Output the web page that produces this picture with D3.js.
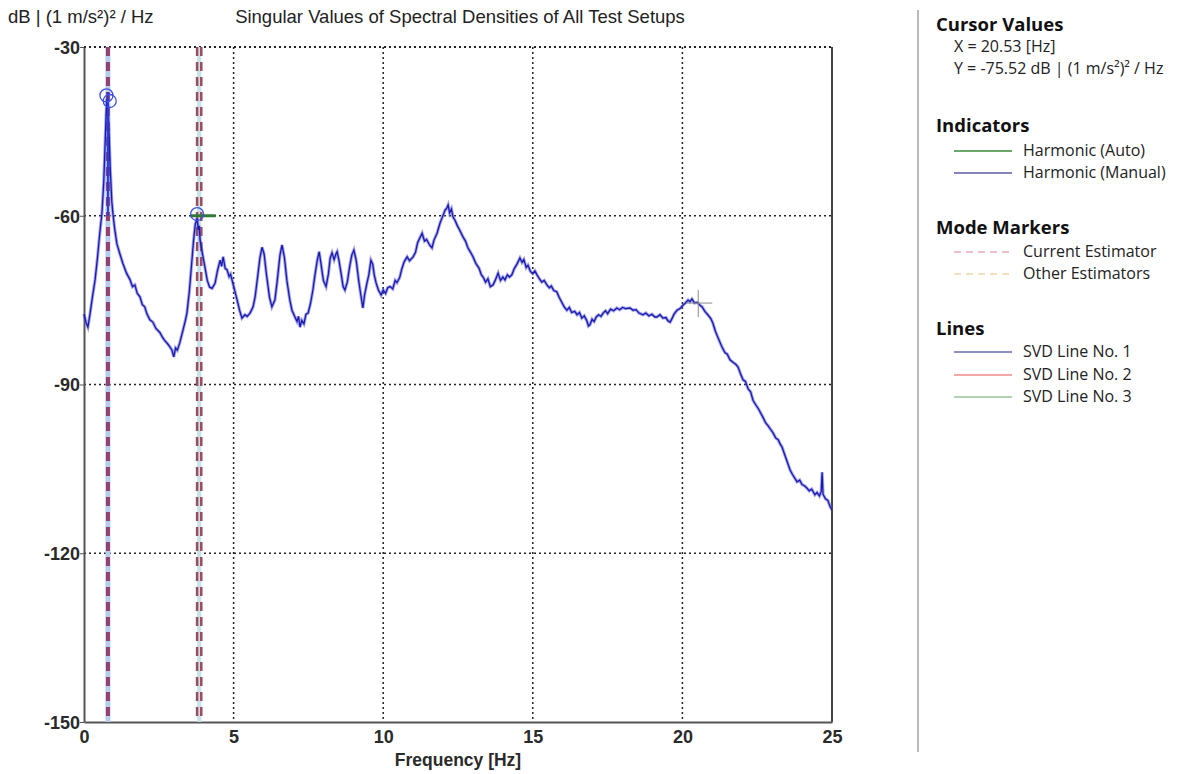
<!DOCTYPE html>
<html>
<head>
<meta charset="utf-8">
<script src="https://cdn.jsdelivr.net/npm/d3@7"></script>
<style>
  body { margin: 0; background: #fff; }
  svg { display: block; }
  .tick text { font-family: "Liberation Sans", Arial, sans-serif; }
</style>
</head>
<body>
<div id="chart"></div>
<script>
// Singular values of spectral densities

const freq = [0.0,0.07,0.13,0.2,0.28,0.37,0.45,0.52,0.6,0.66,0.7,0.74,0.77,0.8,0.84,0.88,0.93,0.97,1.03,1.1,1.2,1.3,1.42,1.54,1.62,1.7,1.78,1.87,1.95,2.03,2.1,2.2,2.3,2.4,2.54,2.62,2.7,2.8,2.87,2.94,3.0,3.06,3.12,3.2,3.3,3.38,3.44,3.52,3.6,3.66,3.72,3.78,3.82,3.85,3.88,3.95,4.04,4.12,4.2,4.28,4.38,4.46,4.55,4.6,4.65,4.72,4.78,4.85,4.9,5.0,5.1,5.2,5.28,5.38,5.45,5.55,5.65,5.72,5.8,5.88,5.95,6.02,6.1,6.2,6.28,6.38,6.46,6.55,6.62,6.7,6.78,6.88,6.95,7.05,7.12,7.17,7.22,7.28,7.35,7.42,7.49,7.57,7.65,7.72,7.8,7.86,7.92,8.0,8.09,8.17,8.23,8.29,8.36,8.42,8.46,8.52,8.6,8.66,8.72,8.8,8.88,8.95,9.02,9.1,9.18,9.25,9.32,9.38,9.46,9.52,9.59,9.65,9.7,9.76,9.84,9.93,10.0,10.08,10.15,10.23,10.32,10.4,10.46,10.55,10.62,10.7,10.8,10.88,10.95,11.0,11.08,11.15,11.22,11.3,11.38,11.45,11.55,11.63,11.7,11.8,11.9,11.98,12.07,12.13,12.17,12.22,12.28,12.33,12.4,12.48,12.55,12.67,12.75,12.83,12.92,13.0,13.1,13.2,13.28,13.34,13.42,13.5,13.58,13.67,13.75,13.84,13.92,14.0,14.07,14.15,14.22,14.3,14.38,14.47,14.57,14.64,14.7,14.78,14.84,14.92,15.0,15.07,15.14,15.22,15.3,15.38,15.47,15.55,15.62,15.7,15.8,15.88,15.95,16.05,16.14,16.22,16.3,16.4,16.48,16.56,16.64,16.72,16.8,16.86,16.91,16.98,17.05,17.12,17.2,17.28,17.35,17.43,17.5,17.6,17.7,17.81,17.9,18.0,18.1,18.25,18.35,18.45,18.55,18.68,18.78,18.88,18.98,19.08,19.15,19.25,19.35,19.45,19.52,19.59,19.66,19.72,19.82,19.92,20.0,20.1,20.19,20.25,20.32,20.4,20.5,20.59,20.66,20.75,20.85,20.95,21.02,21.1,21.2,21.32,21.42,21.5,21.59,21.7,21.78,21.86,21.95,22.03,22.1,22.2,22.28,22.36,22.45,22.55,22.62,22.69,22.78,22.86,22.95,23.03,23.12,23.2,23.27,23.33,23.42,23.5,23.6,23.68,23.75,23.83,23.92,24.0,24.08,24.16,24.24,24.32,24.43,24.5,24.58,24.64,24.67,24.7,24.78,24.86,24.93,25.0];

const svd1 = [-77.5,-79.0,-79.8,-77.5,-74.5,-71.4,-67.5,-63.5,-59.5,-54,-48,-42,-39.2,-40.5,-46,-52,-57.5,-59.8,-62.5,-65,-66.8,-68.5,-70.2,-71.4,-72.6,-72.3,-73.8,-74.4,-75.8,-76.2,-77.4,-78.5,-78.9,-80.0,-80.8,-81.6,-82.2,-82.8,-83.3,-83.9,-85.1,-83.5,-83.9,-82.6,-80.5,-78.8,-77.3,-73.5,-68.4,-64.5,-61.5,-60.5,-62.5,-61.8,-64.3,-66.5,-69.1,-71.5,-72.7,-72.9,-72.0,-69.8,-67.9,-69.0,-67.3,-69.4,-69.6,-70.8,-70.4,-72.5,-74.6,-76.8,-78.2,-77.6,-77.9,-77.3,-76.2,-74.4,-71,-67.5,-65.6,-66.8,-70.5,-74.5,-76.2,-75,-71.5,-67,-65.2,-67.5,-71.5,-75,-76.8,-78,-78.8,-77.9,-79.8,-78.6,-79.2,-77.5,-77.3,-75.6,-73.2,-70.5,-67.8,-66.4,-68.5,-71.5,-72.6,-70.3,-67.5,-66.6,-67.8,-66.8,-66.4,-67.9,-70.5,-72.6,-73.2,-71.8,-69,-67,-66.1,-68,-71.5,-74,-76.4,-74,-71.9,-70.5,-67.9,-68.6,-70.5,-71.9,-73.2,-74.1,-73.2,-73.8,-72.8,-72.6,-73,-71.5,-71.9,-71,-69.5,-68.2,-67.3,-68,-67.6,-67.3,-66.5,-64.8,-64.0,-63.1,-64.5,-64.2,-65.2,-65.7,-64.3,-63.1,-61.3,-60.2,-59.0,-58.6,-58.1,-59.5,-58.8,-60.2,-60.8,-61.8,-62.5,-63.8,-64.5,-65.7,-66.5,-67.3,-68.5,-69.3,-70.5,-70.9,-71.8,-71.2,-72.6,-72.3,-71.4,-70.2,-71.5,-70.9,-71.4,-70.5,-70.9,-70.5,-69.4,-68.6,-67.5,-68.3,-67.8,-69.2,-68.8,-69.9,-70.3,-69.8,-70.5,-71.2,-71.8,-71.5,-72.3,-72.8,-72.5,-73.3,-73.5,-74.5,-75.2,-76.2,-76.8,-76.3,-77.2,-77.0,-77.6,-77.2,-78.2,-77.8,-78.6,-79.6,-79.4,-78.4,-78.8,-78.0,-77.6,-77.9,-77.3,-76.9,-77.4,-76.6,-76.9,-76.4,-76.7,-76.3,-76.5,-76.4,-76.8,-76.7,-77.3,-77.6,-77.3,-77.8,-77.5,-78.0,-78.0,-77.6,-78.2,-78.1,-78.7,-78.9,-78.2,-77.5,-76.8,-76.5,-76.0,-75.5,-75.0,-75.3,-74.8,-75.5,-75.4,-75.9,-76.2,-77.0,-77.6,-78.3,-79.1,-80.5,-81.8,-83.3,-84.3,-84.6,-85.6,-86.1,-86.4,-86.9,-88.2,-89.2,-89.4,-90.8,-91.3,-92.8,-93.6,-94.4,-95.1,-95.8,-96.8,-97.3,-98.0,-98.6,-99.5,-99.8,-100.6,-101.1,-102.5,-103.7,-105.2,-106.0,-106.6,-107.3,-107.0,-107.8,-108.0,-108.4,-108.9,-108.6,-109.6,-109.2,-109.8,-109.0,-105.6,-109.5,-110.3,-110.6,-111.6,-112.3];

const xTicks = [0, 5, 10, 15, 20, 25];
const yTicks = [-30, -60, -90, -120, -150];

// mode markers (Hz): main one at the first peak, a pair at the second
const modeMarkers = [0.8];
const modePair = [3.78, 3.92];
// peak pick circles
const peakF = [0.75, 0.86, 3.78];
const peakDb = [-38.6, -39.6, -59.7];
// harmonic (auto) indicator
const harmonicF = [3.55, 4.4];
const harmonicDb = -60;
// cursor
const cursorX = 20.53, cursorY = -75.52;

const W = 1184, H = 774;
const margin = {left: 84, right: 352, top: 47, bottom: 52};
const plotW = W - margin.left - margin.right;
const plotH = H - margin.top - margin.bottom;

const svg = d3.select('#chart').append('svg')
  .attr('width', W).attr('height', H)
  .style('font-family', '"Liberation Sans", Arial, sans-serif');

const x = d3.scaleLinear().domain([0, 25]).range([margin.left, margin.left + plotW]);
const y = d3.scaleLinear().domain([-150, -30]).range([margin.top + plotH, margin.top]);

// grid (dotted)
const grid = svg.append('g');
grid.selectAll('.gx').data(xTicks.slice(1, -1)).join('line')
  .attr('x1', d => x(d)).attr('x2', d => x(d))
  .attr('y1', y(-30)).attr('y2', y(-150))
  .attr('stroke', '#222').attr('stroke-width', 1.5).attr('stroke-dasharray', '2,3');
grid.selectAll('.gy').data(yTicks.slice(0, -1)).join('line')
  .attr('x1', x(0)).attr('x2', x(25))
  .attr('y1', d => y(d)).attr('y2', d => y(d))
  .attr('stroke', '#222').attr('stroke-width', d => d === -30 ? 2 : 1.5).attr('stroke-dasharray', '2,3');

// frame
svg.append('line').attr('x1', x(25)).attr('x2', x(25)).attr('y1', y(-30)).attr('y2', y(-150))
  .attr('stroke', '#444').attr('stroke-width', 2);

// axes
const yAxis = svg.append('g').attr('transform', `translate(${x(0)},0)`)
  .call(d3.axisLeft(y).tickValues(yTicks).tickFormat(d => String(d)).tickSize(4).tickSizeOuter(0));
const xAxis = svg.append('g').attr('transform', `translate(0,${y(-150)})`)
  .call(d3.axisBottom(x).tickValues(xTicks).tickFormat(d => String(d)).tickSize(0).tickSizeOuter(0).tickPadding(8));
[yAxis, xAxis].forEach(a => {
  a.select('.domain').attr('stroke', '#555').attr('stroke-width', 2);
  a.selectAll('.tick line').attr('stroke', '#555');
  a.selectAll('.tick text').attr('font-size', 18).attr('font-weight', 'bold').attr('fill', '#2a2a2a');
});
yAxis.selectAll('.tick text').attr('x', -4).attr('dy', '0.35em');

// mode markers
modeMarkers.forEach(f => {
  svg.append('line').attr('x1', x(f)).attr('x2', x(f)).attr('y1', y(-30)).attr('y2', y(-150))
    .attr('stroke', '#b7cdf0').attr('stroke-width', 5);
  svg.append('line').attr('x1', x(f)).attr('x2', x(f)).attr('y1', y(-30)).attr('y2', y(-150))
    .attr('stroke', '#94406e').attr('stroke-width', 4).attr('stroke-dasharray', '9,6');
});
svg.append('rect').attr('x', x(modePair[0])).attr('width', x(modePair[1]) - x(modePair[0]))
  .attr('y', y(-30)).attr('height', plotH).attr('fill', '#c9e2ea');
modePair.forEach(f => {
  svg.append('line').attr('x1', x(f)).attr('x2', x(f)).attr('y1', y(-30)).attr('y2', y(-150))
    .attr('stroke', '#9a4d5e').attr('stroke-width', 2.5).attr('stroke-dasharray', '9,6');
});

// spectrum line
const line = d3.line().x((d, i) => x(freq[i])).y(d => y(d));
svg.append('path').datum(svd1).attr('d', line)
  .attr('fill', 'none').attr('stroke', '#5a5ae8').attr('stroke-opacity', 0.55).attr('stroke-width', 3.2);
svg.append('path').datum(svd1).attr('d', line)
  .attr('fill', 'none').attr('stroke', '#1a1aa8').attr('stroke-width', 1.3);

// harmonic (manual) short blue line at first peak
svg.append('line').attr('x1', x(0.8)).attr('x2', x(0.8)).attr('y1', y(-38)).attr('y2', y(-60))
  .attr('stroke', '#2a3ad8').attr('stroke-width', 2);

// harmonic (auto) indicator
svg.append('line').attr('x1', x(harmonicF[0])).attr('x2', x(harmonicF[1]))
  .attr('y1', y(harmonicDb)).attr('y2', y(harmonicDb))
  .attr('stroke', '#2f7a34').attr('stroke-width', 3);

// peak circles
svg.selectAll('.pk').data(peakF).join('circle')
  .attr('cx', d => x(d)).attr('cy', (d, i) => y(peakDb[i])).attr('r', 6.5)
  .attr('fill', 'none').attr('stroke', '#3c4fe0').attr('stroke-width', 1.3);

// cursor cross
svg.append('line').attr('x1', x(cursorX) - 12).attr('x2', x(cursorX) + 14)
  .attr('y1', y(cursorY)).attr('y2', y(cursorY)).attr('stroke', '#8a8a8a').attr('stroke-width', 1);
svg.append('line').attr('x1', x(cursorX)).attr('x2', x(cursorX))
  .attr('y1', y(cursorY) - 13).attr('y2', y(cursorY) + 14).attr('stroke', '#8a8a8a').attr('stroke-width', 1);

// titles
svg.append('text').attr('x', 8).attr('y', 23).attr('font-size', 18.5).attr('fill', '#222')
  .text('dB | (1 m/s²)² / Hz');
svg.append('text').attr('x', 460).attr('y', 23).attr('text-anchor', 'middle').attr('font-size', 18.5).attr('fill', '#222')
  .text('Singular Values of Spectral Densities of All Test Setups');
svg.append('text').attr('x', x(12.5)).attr('y', 766).attr('text-anchor', 'middle')
  .attr('font-size', 17.5).attr('font-weight', 'bold').attr('fill', '#2a2a2a')
  .text('Frequency [Hz]');

// side panel
svg.append('line').attr('x1', 918).attr('x2', 918).attr('y1', 10).attr('y2', 752)
  .attr('stroke', '#777').attr('stroke-width', 1);

const panel = svg.append('g').style('font-family', '"Open Sans", "Noto Sans", sans-serif');
const heads = [['Cursor Values', 31], ['Indicators', 132], ['Mode Markers', 234], ['Lines', 335]];
heads.forEach(([t, yy]) => panel.append('text').attr('x', 936).attr('y', yy)
  .attr('font-size', 18.5).attr('font-weight', 'bold').attr('fill', '#111').text(t));
panel.append('text').attr('x', 954).attr('y', 52).attr('font-size', 16).attr('fill', '#222')
  .text('X = ' + cursorX.toFixed(2) + ' [Hz]');
panel.append('text').attr('x', 954).attr('y', 74).attr('font-size', 16).attr('fill', '#222')
  .text('Y = ' + cursorY.toFixed(2) + ' dB | (1 m/s²)² / Hz');

const legendItems = [
  {label: 'Harmonic (Auto)', y: 151, color: '#3a8a3a', dash: null},
  {label: 'Harmonic (Manual)', y: 173, color: '#5a5aa8', dash: null},
  {label: 'Current Estimator', y: 252, color: '#e6aab8', dash: '7,5'},
  {label: 'Other Estimators', y: 274, color: '#f2d6a8', dash: '7,5'},
  {label: 'SVD Line No. 1', y: 352, color: '#6a6ab4', dash: null},
  {label: 'SVD Line No. 2', y: 375, color: '#f08a8a', dash: null},
  {label: 'SVD Line No. 3', y: 397, color: '#98c498', dash: null}
];
legendItems.forEach(d => {
  panel.append('line').attr('x1', 954).attr('x2', 1012).attr('y1', d.y).attr('y2', d.y)
    .attr('stroke', d.color).attr('stroke-width', 1.5).attr('stroke-dasharray', d.dash);
  panel.append('text').attr('x', 1023).attr('y', d.y + 5).attr('font-size', 16).attr('fill', '#222')
    .text(d.label);
});
</script>
</body>
</html>
